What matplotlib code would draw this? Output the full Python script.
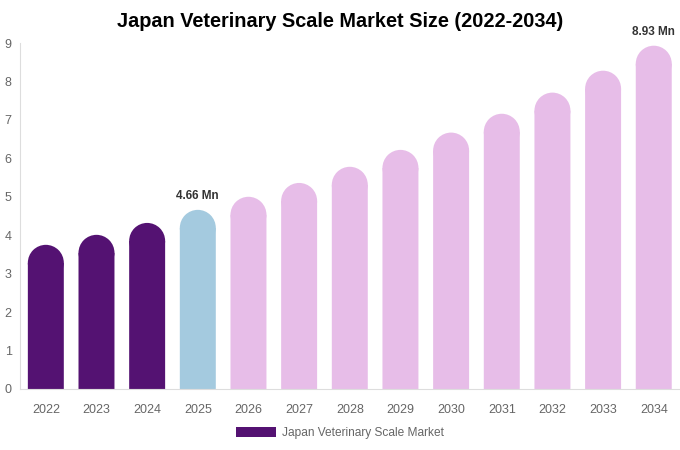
import matplotlib.pyplot as plt
from matplotlib.patches import Ellipse, Patch

plt.rcParams['font.family'] = ['Liberation Sans', 'DejaVu Sans']

years = ['2022', '2023', '2024', '2025', '2026', '2027', '2028',
         '2029', '2030', '2031', '2032', '2033', '2034']
values = [3.75, 4.01, 4.32, 4.66, 5.0, 5.36, 5.78, 6.22, 6.67, 7.16, 7.71, 8.28, 8.93]
labels = {3: '4.66 Mn', 12: '8.93 Mn'}

hist_color = '#541272'
base_color = '#a4cadf'
fcst_color = '#e7bde8'
colors = [hist_color] * 3 + [base_color] + [fcst_color] * 9

fig = plt.figure(figsize=(6.8, 4.5), dpi=100)
ax = fig.add_axes([0.0294, 0.1356, 0.97, 0.7688])

ax.set_xlim(-0.51, len(years) - 0.49)
ax.set_ylim(0, 9)

# rounded tops: half-ellipse in data units that looks like a semicircle on screen
w = 0.71
bbox = ax.get_window_extent()
x_per_px = (ax.get_xlim()[1] - ax.get_xlim()[0]) / bbox.width
y_per_px = (ax.get_ylim()[1] - ax.get_ylim()[0]) / bbox.height
ry = (w / 2) / x_per_px * y_per_px

x = range(len(years))
body = [v - ry for v in values]
bars = ax.bar(x, body, width=w, color=colors, edgecolor='none', linewidth=0)
for b in bars:
    b.set_snap(False)
for i, (v, c) in enumerate(zip(values, colors)):
    e = Ellipse((i, v - ry), w, 2 * ry, facecolor=c, edgecolor='none', linewidth=0)
    e.set_snap(False)
    ax.add_patch(e)
    if i in labels:
        ax.text(i, v + 0.2, labels[i], ha='center', va='bottom',
                fontsize=8.5, fontweight='bold', color='#333333')

ax.set_xticks(list(x))
ax.set_xticklabels(years)
ax.set_yticks(range(0, 10))
ax.tick_params(length=0, colors='#666666', labelsize=9)
ax.tick_params(axis='x', pad=10.5)
ax.tick_params(axis='y', pad=6)

for s in ['top', 'right']:
    ax.spines[s].set_visible(False)
for s in ['left', 'bottom']:
    ax.spines[s].set_color('#dddddd')
    ax.spines[s].set_linewidth(0.8)

fig.suptitle('Japan Veterinary Scale Market Size (2022-2034)', x=0.5, y=0.953,
             va='center', fontsize=14.3, fontweight='bold', color='#000000')

fig.legend(handles=[Patch(facecolor=hist_color, edgecolor='none',
                          label='Japan Veterinary Scale Market')],
           loc='center', bbox_to_anchor=(0.5, 0.038), frameon=False,
           fontsize=8.6, labelcolor='#666666', handlelength=3.35,
           handleheight=1.0, handletextpad=0.5)

fig.savefig('out.png', dpi=100)
